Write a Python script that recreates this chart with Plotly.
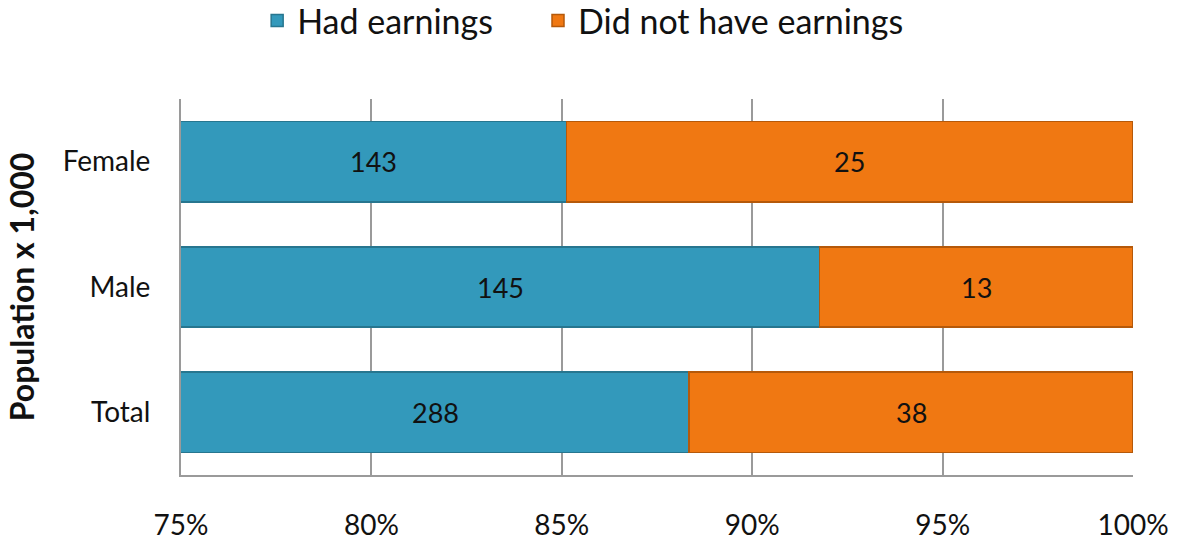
import numpy as np
import plotly.graph_objects as go

# ---- data (population x 1,000) ----
categories = ["Total", "Male", "Female"]
had_earnings = [288, 145, 143]
no_earnings = [38, 13, 25]
series_names = ["Had earnings", "Did not have earnings"]
tick_vals = [75, 80, 85, 90, 95, 100]
tick_text = ["75%", "80%", "85%", "90%", "95%", "100%"]

had = np.array(had_earnings, dtype=float)
no = np.array(no_earnings, dtype=float)
tot = had + no
share_had = had / tot * 100
share_no = no / tot * 100

X_MIN, X_MAX = 75, 100
FONT = "Lato, Open Sans, sans-serif"
TEAL = "#3399BB"
TEAL_EDGE = "#27768F"
ORANGE = "#F07812"
ORANGE_EDGE = "#B5590A"
GRID = "#9A9A9A"

fig = go.Figure()
fig.add_trace(go.Bar(
    y=categories, x=share_had, orientation="h", name=series_names[0],
    marker=dict(color=TEAL, line=dict(color=TEAL_EDGE, width=1.5)),
    hovertemplate="%{y}: %{customdata}<extra></extra>", customdata=had_earnings,
    legend="legend",
))
fig.add_trace(go.Bar(
    y=categories, x=share_no, orientation="h", name=series_names[1],
    marker=dict(color=ORANGE, line=dict(color=ORANGE_EDGE, width=1.5)),
    hovertemplate="%{y}: %{customdata}<extra></extra>", customdata=no_earnings,
    legend="legend2",
))

annotations = []
for i, cat in enumerate(categories):
    mid_had = (X_MIN + share_had[i]) / 2
    mid_no = (share_had[i] + 100) / 2
    annotations.append(dict(x=mid_had, y=cat, xref="x", yref="y", text=str(had_earnings[i]),
                            showarrow=False, font=dict(family=FONT, size=27, color="#111111")))
    annotations.append(dict(x=mid_no, y=cat, xref="x", yref="y", text=str(no_earnings[i]),
                            showarrow=False, font=dict(family=FONT, size=27, color="#111111")))

legend_common = dict(orientation="h", xref="paper", yref="paper", xanchor="left",
                     yanchor="top", y=1.285,
                     font=dict(family=FONT, size=34, color="#111111"),
                     itemwidth=30, bgcolor="rgba(0,0,0,0)")

fig.update_layout(
    width=1177, height=548,
    barmode="stack", bargap=0.36,
    paper_bgcolor="white", plot_bgcolor="white",
    margin=dict(l=181, r=44, t=99, b=73, autoexpand=False),
    font=dict(family=FONT, size=28, color="#111111"),
    legend=dict(x=0.08, **legend_common),
    legend2=dict(x=0.375, **legend_common),
    annotations=annotations,
    showlegend=True,
)
fig.update_xaxes(
    range=[X_MIN, X_MAX], tickvals=tick_vals, ticktext=tick_text,
    showgrid=True, gridcolor=GRID, gridwidth=2,
    showline=True, linecolor=GRID, linewidth=2,
    ticks="outside", ticklen=24, tickcolor="rgba(0,0,0,0)",
    tickfont=dict(family=FONT, size=28, color="#111111"),
    zeroline=False, fixedrange=True,
)
fig.update_yaxes(
    categoryorder="array", categoryarray=categories,
    showline=True, linecolor=GRID, linewidth=2,
    ticks="outside", ticklen=23, tickcolor="rgba(0,0,0,0)",
    tickfont=dict(family=FONT, size=28, color="#111111"),
    title=dict(text="<b>Population x 1,000</b>", standoff=18,
               font=dict(family=FONT, size=32, color="#111111")),
    showgrid=False, fixedrange=True,
)

fig.write_html("out.html", config={"displayModeBar": False},
               post_script="document.body.style.margin='0';")
